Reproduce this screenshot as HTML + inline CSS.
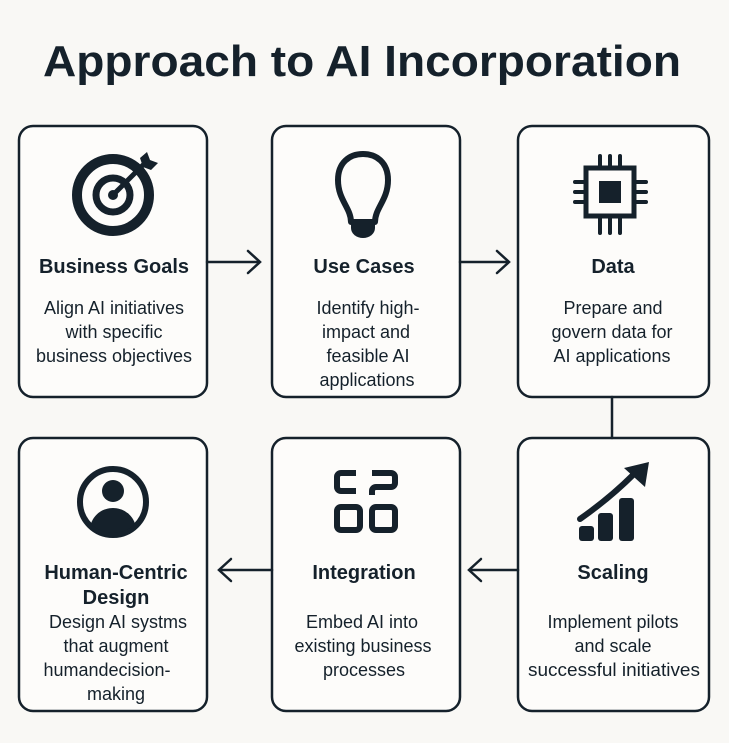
<!DOCTYPE html>
<html><head><meta charset="utf-8"><style>
html,body{margin:0;padding:0;background:#f9f8f5;}
svg{display:block}
text{font-family:"Liberation Sans",sans-serif;fill:#15212b}
.h{font-weight:bold;font-size:20px}
.b{font-size:18px}
</style></head><body>
<svg width="729" height="743" viewBox="0 0 729 743" xmlns="http://www.w3.org/2000/svg">
<rect width="729" height="743" fill="#f9f8f5"/>
<text x="362" y="76" text-anchor="middle" font-weight="bold" font-size="44" textLength="638" lengthAdjust="spacingAndGlyphs">Approach to AI Incorporation</text>
<g fill="#fdfcfa" stroke="#15212b" stroke-width="2.5">
<rect x="19" y="126" width="188" height="271" rx="14"/>
<rect x="272" y="126" width="188" height="271" rx="14"/>
<rect x="518" y="126" width="191" height="271" rx="14"/>
<rect x="19" y="438" width="188" height="273" rx="14"/>
<rect x="272" y="438" width="188" height="273" rx="14"/>
<rect x="518" y="438" width="191" height="273" rx="14"/>
</g>
<g stroke="#15212b" stroke-width="2.5" fill="none" stroke-linecap="round">
<line x1="207" y1="262" x2="259" y2="262"/><polyline points="248,251 260,262 248,273"/>
<line x1="460" y1="262" x2="508" y2="262"/><polyline points="497,251 509,262 497,273"/>
<line x1="612" y1="397" x2="612" y2="438"/>
<line x1="272" y1="570" x2="220" y2="570"/><polyline points="231,559 219,570 231,581"/>
<line x1="518" y1="570" x2="470" y2="570"/><polyline points="481,559 469,570 481,581"/>
</g>
<!-- target -->
<g fill="none" stroke="#15212b">
<circle cx="113" cy="195" r="36" stroke-width="10"/>
<circle cx="113" cy="195" r="17" stroke-width="7"/>
</g>
<circle cx="113" cy="195" r="5" fill="#15212b"/>
<line x1="113" y1="195" x2="145" y2="163" stroke="#15212b" stroke-width="5"/>
<polygon points="140,158 147,152 150,160 158,163 151,170 143,167" fill="#15212b"/>
<!-- bulb -->
<path d="M351,222 C351,208 338,200 338,180 C338,163 349,154 363,154 C377,154 388,163 388,180 C388,200 375,208 375,222 Z" fill="none" stroke="#15212b" stroke-width="6" stroke-linejoin="round"/>
<path d="M351,220 h24 v8 a12,10 0 0 1 -24,0 z" fill="#15212b"/>
<!-- chip -->
<rect x="586" y="168" width="48" height="48" fill="none" stroke="#15212b" stroke-width="5"/>
<rect x="599" y="181" width="22" height="22" fill="#15212b"/>
<g stroke="#15212b" stroke-width="4" stroke-linecap="round">
<line x1="600" y1="156" x2="600" y2="166"/><line x1="610" y1="156" x2="610" y2="166"/><line x1="620" y1="156" x2="620" y2="166"/>
<line x1="600" y1="218" x2="600" y2="233"/><line x1="610" y1="218" x2="610" y2="233"/><line x1="620" y1="218" x2="620" y2="233"/>
<line x1="575" y1="182" x2="584" y2="182"/><line x1="575" y1="192" x2="584" y2="192"/><line x1="575" y1="202" x2="584" y2="202"/>
<line x1="636" y1="182" x2="646" y2="182"/><line x1="636" y1="192" x2="646" y2="192"/><line x1="636" y1="202" x2="646" y2="202"/>
</g>
<!-- person -->
<clipPath id="pc"><circle cx="113" cy="502" r="31"/></clipPath>
<circle cx="113" cy="502" r="33" fill="none" stroke="#15212b" stroke-width="6"/>
<circle cx="113" cy="491" r="11" fill="#15212b"/>
<ellipse cx="113" cy="530" rx="23" ry="22" fill="#15212b" clip-path="url(#pc)"/>
<!-- integration -->
<g fill="none" stroke="#15212b" stroke-width="6" stroke-linejoin="round">
<path d="M356,473 h-15 a4,4 0 0 0 -4,4 v10 a4,4 0 0 0 4,4 h15"/>
<path d="M372,473 h19 a4,4 0 0 1 4,4 v6 a4,4 0 0 1 -4,4 h-15 a4,4 0 0 0 -4,4 v4"/>
<rect x="337" y="507" width="23" height="23" rx="4"/>
<rect x="372" y="507" width="23" height="23" rx="4"/>
</g>
<!-- scaling -->
<g fill="#15212b">
<rect x="579" y="526" width="15" height="15" rx="3"/>
<rect x="598" y="513" width="15" height="28" rx="3"/>
<rect x="619" y="498" width="15" height="43" rx="3"/>
</g>
<path d="M580,519 Q610,498 634,474" fill="none" stroke="#15212b" stroke-width="6" stroke-linecap="round"/>
<polygon points="624,468 649,462 645,487" fill="#15212b"/>
<!-- labels -->
<g text-anchor="middle">
<text class="h" x="114" y="273">Business Goals</text>
<text class="b" x="114" y="314">Align AI initiatives</text>
<text class="b" x="114" y="338">with specific</text>
<text class="b" x="114" y="362">business objectives</text>

<text class="h" x="364" y="273">Use Cases</text>
<text class="b" x="368" y="314">Identify high-</text>
<text class="b" x="366" y="338">impact and</text>
<text class="b" x="368" y="362">feasible AI</text>
<text class="b" x="367" y="386">applications</text>

<text class="h" x="613" y="273">Data</text>
<text class="b" x="613" y="314">Prepare and</text>
<text class="b" x="612" y="338">govern data for</text>
<text class="b" x="612" y="362">AI applications</text>

<text class="h" x="116" y="579">Human-Centric</text>
<text class="h" x="116" y="604">Design</text>
<text class="b" x="118" y="628">Design AI systms</text>
<text class="b" x="116" y="652">that augment</text>
<text class="b" x="107" y="676">humandecision-</text>
<text class="b" x="116" y="700">making</text>

<text class="h" x="364" y="579">Integration</text>
<text class="b" x="362" y="628">Embed AI into</text>
<text class="b" x="363" y="652">existing business</text>
<text class="b" x="364" y="676">processes</text>

<text class="h" x="613" y="579">Scaling</text>
<text class="b" x="613" y="628">Implement pilots</text>
<text class="b" x="613" y="652">and scale</text>
<text class="b" x="614" y="676" textLength="172" lengthAdjust="spacingAndGlyphs">successful initiatives</text>
</g>
</svg>
</body></html>
